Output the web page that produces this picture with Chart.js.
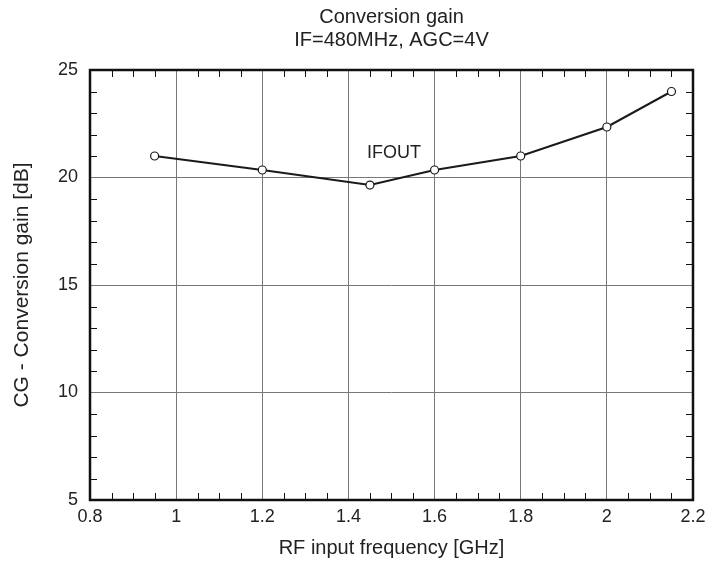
<!DOCTYPE html>
<html>
<head>
<meta charset="utf-8">
<script src="https://cdn.jsdelivr.net/npm/chart.js@4"></script>
<style>
  body { margin: 0; background: #fff; }
  canvas { display: block; }
</style>
</head>
<body>
<canvas id="myChart" width="717" height="568"></canvas>
<script>
const freq = [0.95, 1.2, 1.45, 1.6, 1.8, 2.0, 2.15]
const gain = [21.0, 20.35, 19.65, 20.35, 21.0, 22.35, 24.0]
const xTicks = [0.8, 1.0, 1.2, 1.4, 1.6, 1.8, 2.0, 2.2]
const yTicks = [5, 10, 15, 20, 25]
const seriesLabel = 'IFOUT'

const FONT = 'Liberation Sans, Arial, Helvetica, sans-serif'

// inward minor ticks + frame + curve label
const extras = {
    id: 'extras',
    afterDatasetsDraw(chart) {
        const { ctx, chartArea: a, scales: { x, y } } = chart
        ctx.save()
        ctx.strokeStyle = '#111'
        ctx.lineWidth = 1
        const len = 7
        for (let i = 0; i < xTicks.length - 1; i++) {
            const step = (xTicks[i + 1] - xTicks[i]) / 4
            for (let k = 1; k < 4; k++) {
                const px = Math.round(x.getPixelForValue(xTicks[i] + step * k)) + 0.5
                ctx.beginPath()
                ctx.moveTo(px, a.bottom); ctx.lineTo(px, a.bottom - len)
                ctx.moveTo(px, a.top); ctx.lineTo(px, a.top + len)
                ctx.stroke()
            }
        }
        for (let i = 0; i < yTicks.length - 1; i++) {
            const step = (yTicks[i + 1] - yTicks[i]) / 5
            for (let k = 1; k < 5; k++) {
                const py = Math.round(y.getPixelForValue(yTicks[i] + step * k)) + 0.5
                ctx.beginPath()
                ctx.moveTo(a.left, py); ctx.lineTo(a.left + len, py)
                ctx.moveTo(a.right, py); ctx.lineTo(a.right - len, py)
                ctx.stroke()
            }
        }
        ctx.lineWidth = 2.5
        ctx.strokeStyle = '#111'
        ctx.strokeRect(a.left, a.top, a.right - a.left, a.bottom - a.top)

        ctx.fillStyle = '#222'
        ctx.font = '18px ' + FONT
        ctx.textAlign = 'center'
        ctx.textBaseline = 'middle'
        ctx.fillText(seriesLabel, x.getPixelForValue(1.506), y.getPixelForValue(21.15))
        ctx.restore()
    }
}

const ctx = document.getElementById('myChart')

const myChart = new Chart(ctx, {
    type: 'line',
    data: {
        datasets: [{
            label: seriesLabel,
            data: freq.map((f, i) => ({ x: f, y: gain[i] })),
            borderColor: '#1a1a1a',
            borderWidth: 2,
            pointRadius: 4,
            pointBorderWidth: 1.2,
            pointBackgroundColor: '#fff',
            pointBorderColor: '#1a1a1a',
            tension: 0
        }]
    },
    options: {
        responsive: false,
        animation: false,
        layout: { padding: { left: 0, right: 24, top: 0, bottom: 0 } },
        plugins: {
            legend: { display: false },
            tooltip: { enabled: false },
            title: {
                display: true,
                fullSize: false,
                text: ['Conversion gain', 'IF=480MHz, AGC=4V'],
                color: '#222',
                font: { family: FONT, size: 20, weight: 'normal', lineHeight: 1.15 },
                padding: { top: 6, bottom: 18 }
            }
        },
        scales: {
            x: {
                type: 'linear',
                min: 0.8,
                max: 2.2,
                afterBuildTicks: s => { s.ticks = xTicks.map(v => ({ value: v })) },
                afterFit: s => { s.height = 68 },
                grid: { color: '#777', lineWidth: 1, drawTicks: false },
                border: { display: false },
                ticks: {
                    color: '#222',
                    padding: 6,
                    maxRotation: 0,
                    font: { family: FONT, size: 18 },
                    callback: v => String(Math.round(v * 10) / 10)
                },
                title: {
                    display: true,
                    text: 'RF input frequency [GHz]',
                    color: '#222',
                    font: { family: FONT, size: 20 },
                    padding: { top: 0, bottom: 8 }
                }
            },
            y: {
                min: 5,
                max: 25,
                afterBuildTicks: s => { s.ticks = yTicks.map(v => ({ value: v })) },
                afterFit: s => { s.width = 90 },
                grid: { color: '#777', lineWidth: 1, drawTicks: false },
                border: { display: false },
                ticks: {
                    color: '#222',
                    padding: 12,
                    font: { family: FONT, size: 18 }
                },
                title: {
                    display: true,
                    text: 'CG - Conversion gain [dB]',
                    color: '#222',
                    font: { family: FONT, size: 21 },
                    padding: { top: 10, bottom: 0 }
                }
            }
        }
    },
    plugins: [extras]
})
</script>
</body>
</html>
